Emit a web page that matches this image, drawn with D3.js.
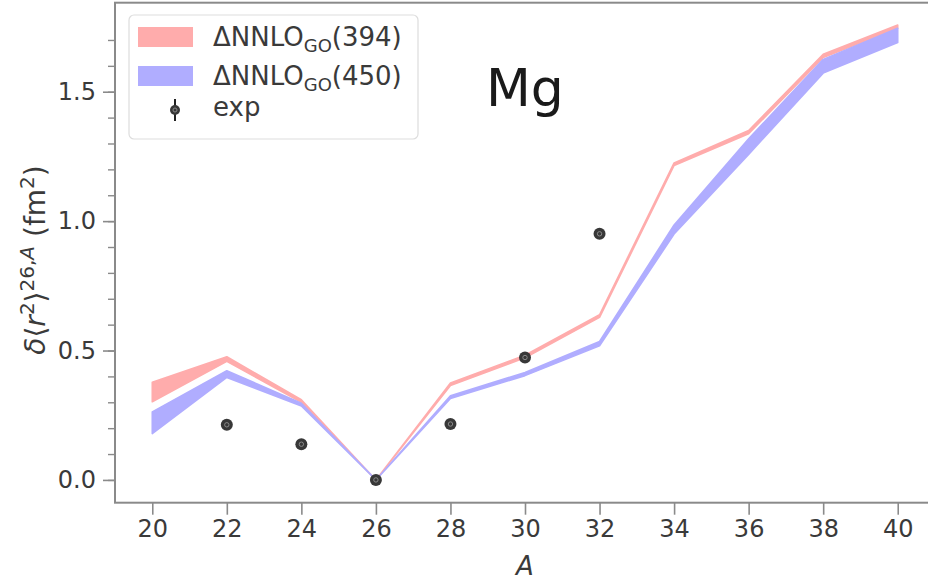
<!DOCTYPE html>
<html>
<head>
<meta charset="utf-8">
<script src="https://cdn.jsdelivr.net/npm/d3@7"></script>
<style>
  body { margin: 0; background: #fff; }
  text { font-family: "DejaVu Sans", sans-serif; }
</style>
</head>
<body>
<svg width="928" height="583"></svg>
<script>
// mass numbers
var massNumbers = [20, 22, 24, 26, 28, 30, 32, 34, 36, 38, 40];

// band for ΔNNLO_GO(394)
var band394Low  = [0.302, 0.458, 0.300, 0, 0.365, 0.472, 0.628, 1.215, 1.338, 1.632, 1.745];
var band394High = [0.377, 0.476, 0.310, 0, 0.375, 0.482, 0.638, 1.225, 1.350, 1.645, 1.758];

// band for ΔNNLO_GO(450)
var band450Low  = [0.179, 0.396, 0.286, 0, 0.315, 0.403, 0.518, 0.950, 1.258, 1.572, 1.690];
var band450High = [0.263, 0.422, 0.296, 0, 0.325, 0.415, 0.535, 0.985, 1.318, 1.625, 1.745];

// experimental points
var expA     = [22, 24, 26, 28, 30, 32];
var expValue = [0.213, 0.138, 0, 0.216, 0.473, 0.951];

var xTicks = [20, 22, 24, 26, 28, 30, 32, 34, 36, 38, 40];
var yTicks = [0.0, 0.5, 1.0, 1.5];
var yMinorTicks = d3.range(0, 18).map(function(i) { return i / 10; });

var svg = d3.select("svg");

var x = d3.scaleLinear().domain([19, 41]).range([115, 935]);
var y = d3.scaleLinear().domain([-0.088, 1.844]).range([502.7, 2.7]);

var axisColor = "#8a8a8a",
    textColor = "#3a3a3a",
    red = "#ffacac",
    blue = "#b0adff";

// bands
function drawBand(lo, hi, color) {
  var rows = massNumbers.map(function(a, i) { return {a: a, lo: lo[i], hi: hi[i]}; });
  var area = d3.area()
      .x(function(d) { return x(d.a); })
      .y0(function(d) { return y(d.lo); })
      .y1(function(d) { return y(d.hi); });
  svg.append("path")
      .datum(rows)
      .attr("d", area)
      .attr("fill", color)
      .attr("stroke", color)
      .attr("stroke-width", 1.6)
      .attr("stroke-linejoin", "round");
}
drawBand(band394Low, band394High, red);
drawBand(band450Low, band450High, blue);

// experimental points
var expRows = expA.map(function(a, i) { return {a: a, v: expValue[i]}; });
var pts = svg.append("g").selectAll("g")
    .data(expRows)
  .enter().append("g")
    .attr("transform", function(d) { return "translate(" + x(d.a) + "," + y(d.v) + ")"; });
pts.append("circle").attr("r", 6).attr("fill", "#383838");
pts.append("circle").attr("r", 2.2).attr("fill", "none").attr("stroke", "#8a8a8a").attr("stroke-width", 1);

// spines
svg.append("rect")
    .attr("x", 115).attr("y", 2.7)
    .attr("width", 935 - 115).attr("height", 500)
    .attr("fill", "none")
    .attr("stroke", axisColor)
    .attr("stroke-width", 2);

// x axis
var xAxis = svg.append("g")
    .attr("transform", "translate(0,502.7)")
    .call(d3.axisBottom(x).tickValues(xTicks).tickSize(12).tickPadding(5).tickFormat(d3.format("d")));
xAxis.select(".domain").remove();
xAxis.selectAll("line").attr("stroke", axisColor).attr("stroke-width", 1.6);
xAxis.selectAll("text").attr("fill", textColor).style("font-size", "24px");

// y axis minor ticks
var yMinor = svg.append("g")
    .attr("transform", "translate(115,0)")
    .call(d3.axisLeft(y).tickValues(yMinorTicks).tickSize(7).tickFormat(""));
yMinor.select(".domain").remove();
yMinor.selectAll("line").attr("stroke", axisColor).attr("stroke-width", 1.4);

// y axis major ticks
var yAxis = svg.append("g")
    .attr("transform", "translate(115,0)")
    .call(d3.axisLeft(y).tickValues(yTicks).tickSize(12).tickPadding(7).tickFormat(d3.format(".1f")));
yAxis.select(".domain").remove();
yAxis.selectAll("line").attr("stroke", axisColor).attr("stroke-width", 1.6);
yAxis.selectAll("text").attr("fill", textColor).style("font-size", "24px");

// axis labels
svg.append("text")
    .attr("x", 525).attr("y", 575)
    .attr("text-anchor", "middle")
    .attr("fill", textColor)
    .style("font-size", "26px")
    .style("font-style", "italic")
    .text("A");

var yl = svg.append("text")
    .attr("transform", "translate(45,260) rotate(-90)")
    .attr("text-anchor", "middle")
    .attr("fill", textColor)
    .style("font-size", "28px");
yl.append("tspan").style("font-style", "italic").text("δ");
yl.append("tspan").text("⟨");
yl.append("tspan").style("font-style", "italic").text("r");
yl.append("tspan").attr("dy", -11).style("font-size", "20px").text("2");
yl.append("tspan").attr("dy", 11).text("⟩");
yl.append("tspan").attr("dy", -11).style("font-size", "20px").text("26,");
yl.append("tspan").style("font-size", "20px").style("font-style", "italic").text("A");
yl.append("tspan").attr("dy", 11).text(" (fm");
yl.append("tspan").attr("dy", -11).style("font-size", "20px").text("2");
yl.append("tspan").attr("dy", 11).text(")");

// Mg title inside plot
svg.append("text")
    .attr("x", 486).attr("y", 106)
    .attr("fill", "#1a1a1a")
    .style("font-size", "52px")
    .text("Mg");

// legend
var lg = svg.append("g");
lg.append("rect")
    .attr("x", 129).attr("y", 15)
    .attr("width", 289).attr("height", 124)
    .attr("rx", 5)
    .attr("fill", "rgba(255,255,255,0.85)")
    .attr("stroke", "#dddddd")
    .attr("stroke-width", 1.2);

var legendItems = [
  {label: "(394)", color: red, y: 37},
  {label: "(450)", color: blue, y: 76}
];
legendItems.forEach(function(item) {
  lg.append("rect")
      .attr("x", 138).attr("y", item.y - 10)
      .attr("width", 55).attr("height", 20)
      .attr("fill", item.color);
  var t = lg.append("text")
      .attr("x", 213).attr("y", item.y + 9)
      .attr("fill", textColor)
      .style("font-size", "26px");
  t.append("tspan").text("ΔNNLO");
  t.append("tspan").attr("dy", 6).style("font-size", "18px").text("GO");
  t.append("tspan").attr("dy", -6).text(item.label);
});

// exp handle
lg.append("line")
    .attr("x1", 175).attr("x2", 175)
    .attr("y1", 99).attr("y2", 121)
    .attr("stroke", "#222").attr("stroke-width", 2);
lg.append("circle").attr("cx", 175).attr("cy", 110).attr("r", 5).attr("fill", "#383838");
lg.append("circle").attr("cx", 175).attr("cy", 110).attr("r", 2).attr("fill", "none").attr("stroke", "#8a8a8a");
lg.append("text")
    .attr("x", 213).attr("y", 116)
    .attr("fill", textColor)
    .style("font-size", "26px")
    .text("exp");
</script>
</body>
</html>
